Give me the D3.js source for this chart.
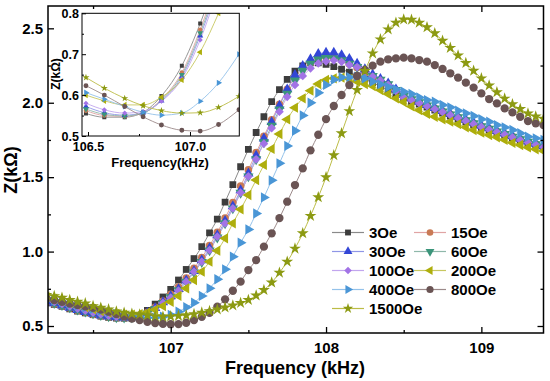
<!DOCTYPE html>
<html><head><meta charset="utf-8">
<script src="https://cdn.jsdelivr.net/npm/d3@7"></script>
<style>body{margin:0;background:#fff}svg{display:block}text{font-family:Arial,"Liberation Sans",sans-serif;font-weight:bold;fill:#000}</style>
</head><body><svg id="c" width="550" height="381"></svg>
<script>
// ---------- DATA ----------
const freq = [106.20,106.25,106.30,106.35,106.40,106.45,106.50,106.55,106.60,106.65,106.70,106.75,106.80,106.85,106.90,106.95,
  107.00,107.05,107.10,107.15,107.20,107.25,107.30,107.35,107.40,107.45,107.50,107.55,107.60,107.65,107.70,107.75,107.80,107.85,107.90,107.95,
  108.00,108.05,108.10,108.15,108.20,108.25,108.30,108.35,108.40,108.45,108.50,
  108.55,108.60,108.65,108.70,108.75,108.80,108.85,108.90,108.95,109.00,109.05,109.10,109.15,109.20,109.25,109.30,109.35,109.40];

const z3Oe = [0.655,0.645,0.632,0.615,0.600,0.588,0.576,0.566,0.558,0.553,0.552,0.553,0.566,0.605,0.647,0.695,
  0.746,0.809,0.880,0.953,1.033,1.125,1.218,1.333,1.450,1.570,1.687,1.800,1.906,2.007,2.088,2.157,2.213,2.248,2.271,2.268,
  2.258,2.242,2.225,2.205,2.180,2.160,2.135,2.110,2.085,2.060,2.035,
  2.010,1.990,1.970,1.950,1.930,1.910,1.890,1.872,1.853,1.835,1.817,1.800,1.782,1.765,1.748,1.732,1.716,1.700];
const z15Oe = [0.660,0.648,0.635,0.620,0.605,0.592,0.578,0.568,0.560,0.555,0.555,0.558,0.570,0.592,0.625,0.668,
  0.712,0.762,0.822,0.888,0.960,1.040,1.130,1.225,1.330,1.440,1.550,1.665,1.775,1.885,1.990,2.090,2.170,2.230,2.270,2.300,
  2.305,2.300,2.285,2.260,2.235,2.205,2.175,2.150,2.120,2.085,2.045,
  2.022,2.002,1.982,1.962,1.942,1.922,1.902,1.882,1.862,1.842,1.825,1.807,1.790,1.772,1.755,1.738,1.722,1.706];
const z30Oe = [0.665,0.652,0.638,0.622,0.607,0.594,0.582,0.571,0.563,0.558,0.557,0.559,0.568,0.588,0.620,0.660,
  0.700,0.748,0.806,0.870,0.942,1.022,1.110,1.205,1.305,1.412,1.525,1.645,1.760,1.870,1.980,2.090,2.186,2.247,2.292,2.327,
  2.336,2.336,2.320,2.295,2.262,2.225,2.190,2.160,2.130,2.090,2.052,
  2.028,2.006,1.985,1.965,1.945,1.925,1.905,1.885,1.865,1.845,1.828,1.810,1.793,1.775,1.758,1.740,1.724,1.708];
const z60Oe = [0.668,0.655,0.641,0.625,0.610,0.597,0.585,0.574,0.565,0.559,0.557,0.558,0.566,0.585,0.615,0.655,
  0.694,0.740,0.797,0.860,0.930,1.008,1.095,1.190,1.290,1.395,1.505,1.620,1.735,1.845,1.955,2.060,2.150,2.215,2.262,2.290,
  2.300,2.298,2.285,2.262,2.240,2.210,2.180,2.155,2.125,2.086,2.048,
  2.024,2.003,1.982,1.962,1.942,1.922,1.902,1.882,1.862,1.842,1.825,1.807,1.790,1.772,1.755,1.738,1.722,1.706];
const z100Oe = [0.675,0.662,0.648,0.632,0.617,0.603,0.590,0.579,0.569,0.562,0.559,0.560,0.566,0.583,0.612,0.655,
  0.690,0.737,0.798,0.865,0.932,1.010,1.100,1.190,1.290,1.396,1.505,1.620,1.725,1.830,1.940,2.040,2.120,2.180,2.231,2.264,
  2.278,2.285,2.275,2.255,2.240,2.205,2.175,2.150,2.120,2.080,2.035,
  2.018,1.998,1.978,1.958,1.938,1.918,1.898,1.878,1.858,1.838,1.820,1.803,1.786,1.768,1.750,1.733,1.718,1.702];
const z200Oe = [0.697,0.684,0.670,0.656,0.642,0.627,0.613,0.600,0.590,0.582,0.577,0.576,0.580,0.592,0.610,0.634,
  0.663,0.702,0.753,0.809,0.865,0.932,1.006,1.089,1.190,1.284,1.380,1.481,1.582,1.690,1.790,1.888,1.967,2.030,2.081,2.126,
  2.153,2.164,2.169,2.160,2.142,2.126,2.112,2.085,2.058,2.030,2.005,
  1.975,1.950,1.926,1.906,1.889,1.873,1.857,1.835,1.817,1.799,1.783,1.768,1.750,1.731,1.716,1.700,1.687,1.676];
const z400Oe = [0.683,0.672,0.660,0.649,0.638,0.626,0.615,0.603,0.592,0.581,0.571,0.563,0.557,0.555,0.556,0.562,
  0.574,0.596,0.626,0.657,0.702,0.753,0.814,0.881,0.966,1.060,1.149,1.256,1.364,1.479,1.593,1.710,1.812,1.915,2.000,2.067,
  2.120,2.155,2.170,2.172,2.175,2.164,2.142,2.124,2.105,2.090,2.074,
  2.059,2.036,2.018,2.007,1.985,1.969,1.947,1.929,1.911,1.889,1.873,1.850,1.835,1.817,1.795,1.772,1.761,1.750];
const z800Oe = [0.686,0.674,0.662,0.650,0.640,0.632,0.622,0.610,0.596,0.580,0.564,0.550,0.540,0.528,0.520,0.514,
  0.512,0.513,0.522,0.540,0.562,0.589,0.630,0.679,0.737,0.798,0.876,0.943,1.033,1.123,1.225,1.335,1.447,1.559,1.680,1.785,
  1.890,1.978,2.052,2.119,2.180,2.220,2.249,2.276,2.292,2.298,2.303,
  2.298,2.287,2.276,2.253,2.227,2.198,2.169,2.135,2.102,2.063,2.025,1.996,1.962,1.935,1.906,1.877,1.862,1.850];
const z1500Oe = [0.708,0.701,0.690,0.675,0.663,0.652,0.634,0.623,0.612,0.598,0.589,0.582,0.578,0.572,0.566,0.562,
  0.565,0.568,0.572,0.580,0.590,0.600,0.612,0.624,0.638,0.655,0.675,0.705,0.742,0.792,0.858,0.932,1.020,1.123,1.240,1.365,
  1.500,1.648,1.795,1.944,2.086,2.213,2.332,2.426,2.493,2.538,2.560,
  2.558,2.538,2.507,2.467,2.417,2.369,2.318,2.267,2.215,2.164,2.116,2.071,2.028,1.990,1.958,1.928,1.908,1.893];

const seriesNames = ["3Oe","15Oe","30Oe","60Oe","100Oe","200Oe","400Oe","800Oe","1500Oe"];
const seriesValues = [z3Oe,z15Oe,z30Oe,z60Oe,z100Oe,z200Oe,z400Oe,z800Oe,z1500Oe];

// inset (zoom of the minimum region)
const insetFreq = [106.49,106.58,106.68,106.77,106.86,106.96,107.05,107.14,107.24];
const in3Oe   = [0.555,0.546,0.546,0.558,0.598,0.672,0.775,0.900,1.040];
const in15Oe  = [0.562,0.550,0.548,0.556,0.590,0.655,0.760,0.890,1.030];
const in30Oe  = [0.572,0.557,0.551,0.557,0.586,0.645,0.745,0.870,1.010];
const in60Oe  = [0.566,0.553,0.549,0.556,0.588,0.650,0.752,0.880,1.020];
const in100Oe = [0.580,0.564,0.556,0.560,0.585,0.640,0.735,0.860,1.000];
const in200Oe = [0.600,0.586,0.576,0.576,0.595,0.637,0.705,0.800,0.920];
const in400Oe = [0.606,0.590,0.572,0.558,0.551,0.556,0.585,0.630,0.700];
const in800Oe = [0.623,0.600,0.572,0.547,0.527,0.514,0.512,0.528,0.564];
const in1500Oe= [0.643,0.617,0.592,0.574,0.562,0.556,0.557,0.570,0.597];
const insetValues = [in3Oe,in15Oe,in30Oe,in60Oe,in100Oe,in200Oe,in400Oe,in800Oe,in1500Oe];

const xTicks = [107,108,109], xMinor = [106.5,107.5,108.5];
const yTicks = [0.5,1.0,1.5,2.0,2.5], yMinor = [0.75,1.25,1.75,2.25];
const insetXTicks = [106.5,107.0], insetXMinor = [106.75];
const insetYTicks = [0.5,0.6,0.7,0.8], insetYMinor = [0.55,0.65,0.75];

// ---------- STYLES ----------
const styles = [
  {m:"#3d3d3d", l:"#8a8a8a", sym:d3.symbolSquare, rot:0, size:46},
  {m:"#c97a55", l:"#e0a4a4", sym:d3.symbolCircle, rot:0, size:46},
  {m:"#3346d6", l:"#8f96e6", sym:d3.symbolTriangle, rot:0, size:46},
  {m:"#3b957a", l:"#8fb8aa", sym:d3.symbolTriangle, rot:180, size:46},
  {m:"#a273e6", l:"#c2a6ee", sym:d3.symbolSquare, rot:45, size:38},
  {m:"#aeae0c", l:"#c7c760", sym:d3.symbolTriangle, rot:-90, size:46},
  {m:"#4a96d6", l:"#94c2ea", sym:d3.symbolTriangle, rot:90, size:46},
  {m:"#6a5454", l:"#9c8a8a", sym:d3.symbolCircle, rot:0, size:54},
  {m:"#8c9a12", l:"#bcbc46", sym:d3.symbolStar, rot:0, size:44}
];

const svg = d3.select("#c");
const m = {l:48, r:543.5, t:6, b:333};
const x = d3.scaleLinear().domain([106.21,109.40]).range([m.l,m.r]);
const y = d3.scaleLinear().domain([0.453,2.65]).range([m.b,m.t]);

const defs = svg.append("defs");
defs.append("clipPath").attr("id","mainclip")
  .append("rect").attr("x",m.l).attr("y",m.t).attr("width",m.r-m.l).attr("height",m.b-m.t);

const plot = svg.append("g").attr("clip-path","url(#mainclip)");
const line = d3.line().x((d,i)=>x(freq[i])).y(d=>y(d)).curve(d3.curveMonotoneX);

seriesValues.forEach((vals,k)=>{
  plot.append("path").attr("d",line(vals)).attr("fill","none").attr("stroke",styles[k].l).attr("stroke-width",1);
});
seriesValues.forEach((vals,k)=>{
  const st = styles[k];
  const sym = d3.symbol().type(st.sym).size(st.size);
  plot.append("g").selectAll("path").data(vals).join("path")
    .attr("d",sym)
    .attr("transform",(d,i)=>`translate(${x(freq[i])},${y(d)}) rotate(${st.rot})`)
    .attr("fill",st.m);
});

// axes (ticks inward, mirrored)
function styleAxis(g){ g.select(".domain").remove(); g.selectAll("line").attr("stroke","#000").attr("stroke-width",1.3);
  g.selectAll("text").style("font-size","15px").style("font-weight","bold").attr("fill","#000"); }
svg.append("g").attr("transform",`translate(0,${m.b})`)
  .call(d3.axisBottom(x).tickValues(xTicks).tickFormat(d3.format("d")).tickSizeInner(-6).tickSizeOuter(0).tickPadding(9)).call(styleAxis);
svg.append("g").attr("transform",`translate(0,${m.b})`)
  .call(d3.axisBottom(x).tickValues(xMinor).tickFormat("").tickSizeInner(-3).tickSizeOuter(0)).call(styleAxis);
svg.append("g").attr("transform",`translate(0,${m.t})`)
  .call(d3.axisTop(x).tickValues(xTicks).tickFormat("").tickSizeInner(-6).tickSizeOuter(0)).call(styleAxis);
svg.append("g").attr("transform",`translate(0,${m.t})`)
  .call(d3.axisTop(x).tickValues(xMinor).tickFormat("").tickSizeInner(-3).tickSizeOuter(0)).call(styleAxis);
svg.append("g").attr("transform",`translate(${m.l},0)`)
  .call(d3.axisLeft(y).tickValues(yTicks).tickFormat(d3.format(".1f")).tickSizeInner(-6).tickSizeOuter(0).tickPadding(5)).call(styleAxis);
svg.append("g").attr("transform",`translate(${m.l},0)`)
  .call(d3.axisLeft(y).tickValues(yMinor).tickFormat("").tickSizeInner(-3).tickSizeOuter(0)).call(styleAxis);
svg.append("g").attr("transform",`translate(${m.r},0)`)
  .call(d3.axisRight(y).tickValues(yTicks).tickFormat("").tickSizeInner(-6).tickSizeOuter(0)).call(styleAxis);
svg.append("g").attr("transform",`translate(${m.r},0)`)
  .call(d3.axisRight(y).tickValues(yMinor).tickFormat("").tickSizeInner(-3).tickSizeOuter(0)).call(styleAxis);
svg.append("rect").attr("x",m.l).attr("y",m.t).attr("width",m.r-m.l).attr("height",m.b-m.t)
  .attr("fill","none").attr("stroke","#000").attr("stroke-width",1.5);

svg.append("text").attr("x",295).attr("y",374).attr("text-anchor","middle").style("font-size","18px").text("Frequency (kHz)");
svg.append("text").attr("transform","translate(17,170) rotate(-90)").attr("text-anchor","middle").style("font-size","18px").text("Z(kΩ)");

// legend
const legendRows = [[0,1],[2,3],[4,5],[6,7],[8]];
const lg = svg.append("g");
legendRows.forEach((row,r)=>{
  row.forEach((k,c)=>{
    const x0 = c===0 ? 332 : 414, yy = 232.5 + r*19;
    const st = styles[k];
    lg.append("line").attr("x1",x0).attr("x2",x0+32).attr("y1",yy).attr("y2",yy).attr("stroke",st.l).attr("stroke-width",1.2);
    lg.append("path").attr("d",d3.symbol().type(st.sym).size(st.size*0.75)).attr("transform",`translate(${x0+16},${yy}) rotate(${st.rot})`).attr("fill",st.m);
    lg.append("text").attr("x",x0+37).attr("y",yy+5.5).style("font-size","15px").text(seriesNames[k]);
  });
});

// ---------- INSET ----------
const ib = {l:82, r:239.3, t:13.3, b:136};
const ix = d3.scaleLinear().domain([106.4706,107.2417]).range([ib.l,ib.r]);
const iy = d3.scaleLinear().domain([0.5,0.8]).range([ib.b,ib.t]);
svg.append("rect").attr("x",ib.l).attr("y",ib.t).attr("width",ib.r-ib.l).attr("height",ib.b-ib.t).attr("fill","#fff");
defs.append("clipPath").attr("id","insetclip")
  .append("rect").attr("x",ib.l).attr("y",ib.t).attr("width",ib.r-ib.l).attr("height",ib.b-ib.t);
const ip = svg.append("g").attr("clip-path","url(#insetclip)");
const iline = d3.line().x((d,i)=>ix(insetFreq[i])).y(d=>iy(d)).curve(d3.curveMonotoneX);
insetValues.forEach((vals,k)=>{
  ip.append("path").attr("d",iline(vals)).attr("fill","none").attr("stroke",styles[k].l).attr("stroke-width",0.9);
});
insetValues.forEach((vals,k)=>{
  const st = styles[k];
  const sym = d3.symbol().type(st.sym).size(st.size*0.35);
  ip.append("g").selectAll("path").data(vals).join("path").attr("d",sym)
    .attr("transform",(d,i)=>`translate(${ix(insetFreq[i])},${iy(d)}) rotate(${st.rot})`).attr("fill",st.m);
});
function styleInset(g){ g.select(".domain").remove(); g.selectAll("line").attr("stroke","#000").attr("stroke-width",1);
  g.selectAll("text").style("font-size","12.5px").style("font-weight","bold").attr("fill","#000"); }
svg.append("g").attr("transform",`translate(0,${ib.b})`)
  .call(d3.axisBottom(ix).tickValues(insetXTicks).tickFormat(d3.format(".1f")).tickSizeInner(-4).tickSizeOuter(0).tickPadding(6)).call(styleInset);
svg.append("g").attr("transform",`translate(0,${ib.b})`)
  .call(d3.axisBottom(ix).tickValues(insetXMinor).tickFormat("").tickSizeInner(-2).tickSizeOuter(0)).call(styleInset);
svg.append("g").attr("transform",`translate(${ib.l},0)`)
  .call(d3.axisLeft(iy).tickValues(insetYTicks).tickFormat(d3.format(".1f")).tickSizeInner(-4).tickSizeOuter(0).tickPadding(3)).call(styleInset);
svg.append("g").attr("transform",`translate(${ib.l},0)`)
  .call(d3.axisLeft(iy).tickValues(insetYMinor).tickFormat("").tickSizeInner(-2).tickSizeOuter(0)).call(styleInset);
svg.append("rect").attr("x",ib.l).attr("y",ib.t).attr("width",ib.r-ib.l).attr("height",ib.b-ib.t)
  .attr("fill","none").attr("stroke","#000").attr("stroke-width",1);
svg.append("text").attr("x",160).attr("y",167).attr("text-anchor","middle").style("font-size","13px").text("Frequency(kHz)");
svg.append("text").attr("transform","translate(60,74) rotate(-90)").attr("text-anchor","middle").style("font-size","12px").text("Z(kΩ)");
</script></body></html>
